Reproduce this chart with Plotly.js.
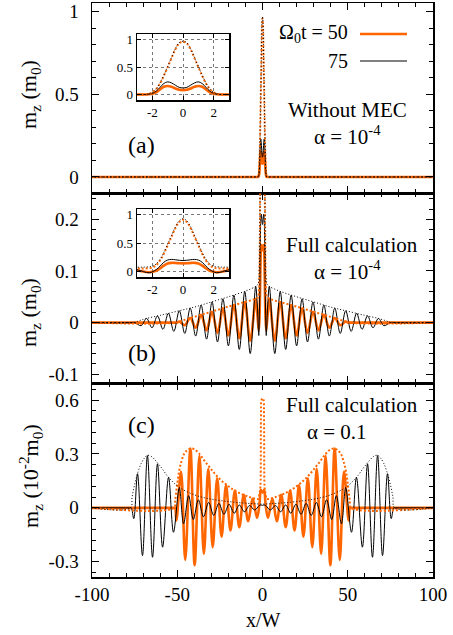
<!DOCTYPE html>
<html><head><meta charset="utf-8">
<script src="https://cdn.plot.ly/plotly-3.0.1.min.js"></script>
<style>html,body{margin:0;padding:0;background:#fff}#chart{width:453px;height:635px}</style>
</head><body><div id="chart"></div>
<script>
// ---------- Panel (a): without MEC, alpha = 1e-4 ----------
const xA = [-100,-3,-2.5,-2.25,-2,-1.75,-1.5,-1.25,-1,-0.75,-0.5,-0.25,0,0.25,0.5,0.75,1,1.25,1.5,1.75,2,2.25,2.5,3,100];
const aOrangeDot   = [0,0,0,0.01,0.04,0.1,0.2,0.34,0.5,0.66,0.82,0.93,0.96,0.93,0.82,0.66,0.5,0.34,0.2,0.1,0.04,0.01,0,0,0];
const aBlackDot    = [0,0,0,0.01,0.04,0.1,0.21,0.35,0.51,0.67,0.83,0.94,0.97,0.94,0.83,0.67,0.51,0.35,0.21,0.1,0.04,0.01,0,0,0];
const aBlackSolid  = [0,0,0,0.005,0.02,0.06,0.13,0.2,0.23,0.21,0.17,0.13,0.12,0.13,0.17,0.21,0.23,0.2,0.13,0.06,0.02,0.005,0,0,0];
const aOrangeSolid = [0,0,0,0.004,0.015,0.04,0.09,0.14,0.155,0.14,0.11,0.085,0.08,0.085,0.11,0.14,0.155,0.14,0.09,0.04,0.015,0.004,0,0,0];

// ---------- Panel (b): full calculation, alpha = 1e-4 ----------
const xBk = [-100,-78,-75,-71.2,-68,-64.8,-61.6,-58.4,-55.2,-52,-48.8,-45.6,-42.4,-39.2,-36,-32.8,-29.6,-26.4,-23.2,-20,-16.8,-13.6,-10.4,-7.2,-4,-3,-2.2,-1.75,-1.5,-1.25,-1,-0.75,-0.5,-0.25,0,
  0.25,0.5,0.75,1,1.25,1.5,1.75,2.2,3,4,7.2,10.4,13.6,16.8,20,23.2,26.4,29.6,32.8,36,39.2,42.4,45.6,48.8,52,55.2,58.4,61.6,64.8,68,71.2,75,78,100];
const yBk = [0,0,0,-0.006,0.008,-0.01,0.013,-0.013,0.018,-0.017,0.023,-0.021,0.028,-0.026,0.034,-0.032,0.04,-0.0375,0.046,-0.045,0.053,-0.052,0.06,-0.06,0.07,0.03,-0.025,0.03,0.09,0.16,0.2,0.21,0.205,0.195,0.19,
  0.195,0.205,0.21,0.2,0.16,0.09,0.03,-0.025,0.03,0.07,-0.06,0.06,-0.052,0.053,-0.045,0.046,-0.0375,0.04,-0.032,0.034,-0.026,0.028,-0.021,0.023,-0.017,0.018,-0.013,0.013,-0.01,0.008,-0.006,0,0,0];
const xBo = [-100,-52,-50,-48.8,-45.6,-42.4,-39.2,-36,-32.8,-29.6,-26.4,-23.2,-20,-16.8,-13.6,-10.4,-7.2,-4,-3,-2.2,-1.75,-1.5,-1.25,-1,-0.75,-0.5,-0.25,0,
  0.25,0.5,0.75,1,1.25,1.5,1.75,2.2,3,4,7.2,10.4,13.6,16.8,20,23.2,26.4,29.6,32.8,36,39.2,42.4,45.6,48.8,50,52,100];
const yBo = [0,0,0,0.002,-0.005,0.009,-0.01,0.015,-0.015,0.021,-0.02,0.027,-0.025,0.034,-0.03,0.04,-0.035,0.046,0.015,-0.015,0.01,0.05,0.1,0.14,0.15,0.148,0.142,0.14,
  0.142,0.148,0.15,0.14,0.1,0.05,0.01,-0.015,0.015,0.046,-0.035,0.04,-0.03,0.034,-0.025,0.027,-0.02,0.021,-0.015,0.015,-0.01,0.009,-0.005,0.002,0,0,0];
const xBkE = [-100,-76,-72,-68,-60,-50,-40,-30,-20,-10,-4,-3,-2.5,-2,-1.75,-1.5,-1.25,-1,-0.75,-0.5,-0.25,0,
  0.25,0.5,0.75,1,1.25,1.5,1.75,2,2.5,3,4,10,20,30,40,50,60,68,72,76,100];
const yBkE = [0,0,0.004,0.008,0.014,0.022,0.03,0.04,0.05,0.061,0.07,0.073,0.075,0.09,0.13,0.21,0.33,0.48,0.63,0.78,0.89,0.93,
  0.89,0.78,0.63,0.48,0.33,0.21,0.13,0.09,0.075,0.073,0.07,0.061,0.05,0.04,0.03,0.022,0.014,0.008,0.004,0,0];
const xBoE = [-100,-51,-45,-40,-30,-20,-10,-5,-3,-2.5,-2,-1.75,-1.5,-1.25,-1,-0.75,-0.5,-0.25,0,
  0.25,0.5,0.75,1,1.25,1.5,1.75,2,2.5,3,5,10,20,30,40,45,51,100];
const yBoE = [0,0,0.006,0.011,0.021,0.031,0.04,0.045,0.048,0.05,0.065,0.11,0.19,0.31,0.46,0.61,0.76,0.87,0.91,
  0.87,0.76,0.61,0.46,0.31,0.19,0.11,0.065,0.05,0.048,0.045,0.04,0.031,0.021,0.011,0.006,0,0];

// ---------- Panel (c): full calculation, alpha = 0.1 (units 1e-2 m0) ----------
const xCk = [-100,-78,-77,-75.5,-73.3,-70.4,-67.5,-64.5,-61.6,-58.6,-55.1,-52.2,-48.8,-46.3,-43.3,-40.6,-37.6,-34.6,-31.6,-28.6,-25.6,-22.6,-19.6,-16.6,-13.6,-10.6,-7.6,-4.6,-2,-1,0,
  1,2,4.6,7.6,10.6,13.6,16.6,19.6,22.6,25.6,28.6,31.6,34.6,37.6,40.6,43.3,46.3,48.8,52.2,55.1,58.6,61.6,64.5,67.5,70.4,73.3,75.5,77,78,100];
const yCk = [0,0,0,-0.06,0.19,-0.266,0.291,-0.275,0.245,-0.219,0.17,-0.136,0.11,-0.089,0.068,-0.065,0.045,-0.05,0.03,-0.042,0.025,-0.036,0.02,-0.03,0.016,-0.022,0.013,-0.012,0.012,0.016,0.014,
  0.016,0.012,-0.012,0.013,-0.022,0.016,-0.03,0.02,-0.036,0.025,-0.042,0.03,-0.05,0.045,-0.065,0.068,-0.089,0.11,-0.136,0.17,-0.219,0.245,-0.275,0.291,-0.266,0.19,-0.06,0,0,0];
const xCkE = [-100,-77.5,-76.5,-75,-73,-71,-69,-67.5,-65,-62,-59,-56,-53,-50,-46,-42,-38,-34,-30,-25,-20,-15,-10,-5,0,
  5,10,15,20,25,30,34,38,42,46,50,53,56,59,62,65,67.5,69,71,73,75,76.5,77.5,100];
const yCkE = [0,0,0.06,0.13,0.2,0.25,0.28,0.293,0.285,0.255,0.22,0.18,0.148,0.122,0.098,0.08,0.066,0.056,0.048,0.041,0.035,0.03,0.026,0.023,0.021,
  0.023,0.026,0.03,0.035,0.041,0.048,0.056,0.066,0.08,0.098,0.122,0.148,0.18,0.22,0.255,0.285,0.293,0.28,0.25,0.2,0.13,0.06,0,0];
const xCo = [-100,-52,-51.3,-50.5,-47.8,-45.3,-42.3,-39.8,-37,-34.4,-31.8,-29.2,-26.6,-24,-21.4,-18.8,-16.2,-13.6,-11,-8.4,-5.8,-3.2,-1.8,-1,-0.5,0,
  0.5,1,1.8,3.2,5.8,8.4,11,13.6,16.2,18.8,21.4,24,26.6,29.2,31.8,34.4,37,39.8,42.3,45.3,47.8,50.5,51.3,52,100];
const yCo = [0,0,0,-0.07,0.2,-0.29,0.33,-0.32,0.29,-0.256,0.217,-0.219,0.165,-0.16,0.125,-0.126,0.096,-0.108,0.072,-0.075,0.052,-0.056,0.02,0.1,0.09,0.085,
  0.09,0.1,0.02,-0.056,0.052,-0.075,0.072,-0.108,0.096,-0.126,0.125,-0.16,0.165,-0.219,0.217,-0.256,0.29,-0.32,0.33,-0.29,0.2,-0.07,0,0,0];
const xCoE = [-100,-52,-51.2,-50.2,-49,-47.5,-46,-44,-42,-40,-37,-34,-31,-28,-25,-22,-19,-16,-13,-10,-7,-4,-2.5,-1.8,-1.4,-1.1,-0.9,-0.6,0,
  0.6,0.9,1.1,1.4,1.8,2.5,4,7,10,13,16,19,22,25,28,31,34,37,40,42,44,46,47.5,49,50.2,51.2,52,100];
const yCoE = [0,0,0.04,0.12,0.2,0.26,0.3,0.322,0.33,0.326,0.3,0.262,0.225,0.19,0.16,0.135,0.113,0.095,0.08,0.068,0.058,0.05,0.05,0.08,0.1,0.15,0.5,0.6,0.61,
  0.6,0.5,0.15,0.1,0.08,0.05,0.05,0.058,0.068,0.08,0.095,0.113,0.135,0.16,0.19,0.225,0.262,0.3,0.326,0.33,0.322,0.3,0.26,0.2,0.12,0.04,0,0];

// ---------- tick labels ----------
const xTickVals = [-100,-50,0,50,100];
const xTickText = ['-100','-50','0','50','100'];
const aTickVals = [0,0.5,1];   const aTickText = ['0','0.5','1'];
const bTickVals = [-0.1,0,0.1,0.2]; const bTickText = ['-0.1','0','0.1','0.2'];
const cTickVals = [-0.3,0,0.3,0.6]; const cTickText = ['-0.3','0','0.3','0.6'];
const insXVals = [-2,0,2]; const insXText = ['-2','0','2'];
const insYVals = [0,0.5,1]; const insYText = ['0','0.5','1'];

// ---------- styling / layout ----------
const F = '"Liberation Serif", "DejaVu Serif", serif';
const OR = '#ff6600', BK = '#000000';
const L = 92, R = 433, T = 3, B = 577;
const px = v => (v - L) / (R - L);
const py = v => (B - v) / (B - T);

function tr(x, y, xa, ya, color, width, dash) {
  return {x: x, y: y, xaxis: xa, yaxis: ya, type: 'scatter', mode: 'lines',
    line: {color: color, width: width, dash: dash || 'solid', shape: 'spline', smoothing: 1},
    hoverinfo: 'skip', showlegend: false};
}
function four(x1,o,x2,k,x3,oe,x4,ke,xa,ya){
  return [tr(x1,o,xa,ya,OR,2.6), tr(x2,k,xa,ya,BK,1), tr(x3,oe,xa,ya,OR,2,'2px,2px'), tr(x4,ke,xa,ya,BK,1,'1px,2px')];
}
const data = [].concat(
  four(xA,aOrangeSolid,xA,aBlackSolid,xA,aOrangeDot,xA,aBlackDot,'x','y'),
  four(xBo,yBo,xBk,yBk,xBoE,yBoE,xBkE,yBkE,'x2','y2'),
  four(xCo,yCo,xCk,yCk,xCoE,yCoE,xCkE,yCkE,'x3','y3'),
  four(xA,aOrangeSolid,xA,aBlackSolid,xA,aOrangeDot,xA,aBlackDot,'x4','y4'),
  four(xBo,yBo,xBk,yBk,xBoE,yBoE,xBkE,yBkE,'x5','y5')
);

const base = {showline: true, linecolor: '#000', linewidth: 1.5, mirror: 'ticks', ticks: 'inside',
  ticklen: 7, tickwidth: 1, tickcolor: '#000', showgrid: false, zeroline: false,
  tickfont: {family: F, size: 19, color: '#000'}};
const xMain = Object.assign({}, base, {range: [-100, 100], tickmode: 'array', tickvals: xTickVals, ticktext: xTickText,
  minor: {dtick: 10, tick0: 0, ticks: 'inside', ticklen: 4, tickcolor: '#000'}});
function yMain(dom, rng, tv, tt, md) {
  return Object.assign({}, base, {domain: dom, range: rng, tickmode: 'array', tickvals: tv, ticktext: tt,
    ticklabelstandoff: 8, minor: {dtick: md, tick0: 0, ticks: 'inside', ticklen: 4, tickcolor: '#000'}});
}
const insBase = {showline: true, linecolor: '#000', linewidth: 1.5, mirror: 'ticks', ticks: 'inside',
  ticklen: 4, tickwidth: 1, tickcolor: '#000', showgrid: true, gridcolor: '#777', griddash: 'dot', gridwidth: 1,
  zeroline: false, tickfont: {family: F, size: 13, color: '#000'}};

const layout = {
  width: 453, height: 635, margin: {l: L, r: 453 - R, t: T, b: 635 - B},
  paper_bgcolor: '#fff', plot_bgcolor: 'rgba(0,0,0,0)', showlegend: false,
  font: {family: F, color: '#000'},
  xaxis: Object.assign({}, xMain, {anchor: 'y', showticklabels: false}),
  xaxis2: Object.assign({}, xMain, {anchor: 'y2', matches: 'x', showticklabels: false}),
  xaxis3: Object.assign({}, xMain, {anchor: 'y3', matches: 'x', showticklabels: true}),
  yaxis: yMain([py(193), 1], [-0.097, 1.053], aTickVals, aTickText, 0.1),
  yaxis2: yMain([py(383), py(193)], [-0.117, 0.251], bTickVals, bTickText, 0.02),
  yaxis3: yMain([0, py(383)], [-0.385, 0.695], cTickVals, cTickText, 0.06),
  xaxis4: Object.assign({}, insBase, {domain: [px(137), px(229)], anchor: 'y4', range: [-3, 3], tickmode: 'array', tickvals: insXVals, ticktext: insXText}),
  yaxis4: Object.assign({}, insBase, {domain: [py(100), py(34)], anchor: 'x4', range: [-0.1, 1.1], tickmode: 'array', tickvals: insYVals, ticktext: insYText}),
  xaxis5: Object.assign({}, insBase, {domain: [px(137), px(229)], anchor: 'y5', range: [-3, 3], tickmode: 'array', tickvals: insXVals, ticktext: insXText}),
  yaxis5: Object.assign({}, insBase, {domain: [py(277), py(209)], anchor: 'x5', range: [-0.1, 1.1], tickmode: 'array', tickvals: insYVals, ticktext: insYText}),
  annotations: [
    {text: 'm<sub>z</sub> (m<sub>0</sub>)', x: px(30), y: py(95), textangle: -90, font: {size: 22}},
    {text: 'm<sub>z</sub> (m<sub>0</sub>)', x: px(30), y: py(313), textangle: -90, font: {size: 22}},
    {text: 'm<sub>z</sub> (10<sup>-2</sup>m<sub>0</sub>)', x: px(30), y: py(476), textangle: -90, font: {size: 22}},
    {text: 'x/W', x: px(263), y: py(620), font: {size: 20}},
    {text: '(a)', x: px(141), y: py(145), font: {size: 24}},
    {text: '(b)', x: px(142), y: py(353), font: {size: 24}},
    {text: '(c)', x: px(141), y: py(425), font: {size: 24}},
    {text: 'Without MEC', x: px(347), y: py(110), font: {size: 21}},
    {text: '\u03b1 = 10<sup>-4</sup>', x: px(347), y: py(135), font: {size: 21}},
    {text: 'Full calculation', x: px(352), y: py(245), font: {size: 21}},
    {text: '\u03b1 = 10<sup>-4</sup>', x: px(347), y: py(270), font: {size: 21}},
    {text: 'Full calculation', x: px(352), y: py(405), font: {size: 21}},
    {text: '\u03b1 = 0.1', x: px(337), y: py(432), font: {size: 21}},
    {text: '\u03a9<sub>0</sub>t = 50', x: px(350), y: py(33), xanchor: 'right', font: {size: 20}},
    {text: '75', x: px(350), y: py(61), xanchor: 'right', font: {size: 20}}
  ].map(a => Object.assign({xref: 'paper', yref: 'paper', showarrow: false, xanchor: 'center', yanchor: 'middle'}, a,
      {font: Object.assign({family: F, color: '#000'}, a.font)})),
  shapes: [
    {type: 'line', xref: 'paper', yref: 'paper', x0: px(360), x1: px(407), y0: py(34), y1: py(34), line: {color: OR, width: 2.6}},
    {type: 'line', xref: 'paper', yref: 'paper', x0: px(360), x1: px(407), y0: py(61), y1: py(61), line: {color: BK, width: 1}}
  ]
};
Plotly.newPlot('chart', data, layout, {staticPlot: true, displayModeBar: false});
</script></body></html>
